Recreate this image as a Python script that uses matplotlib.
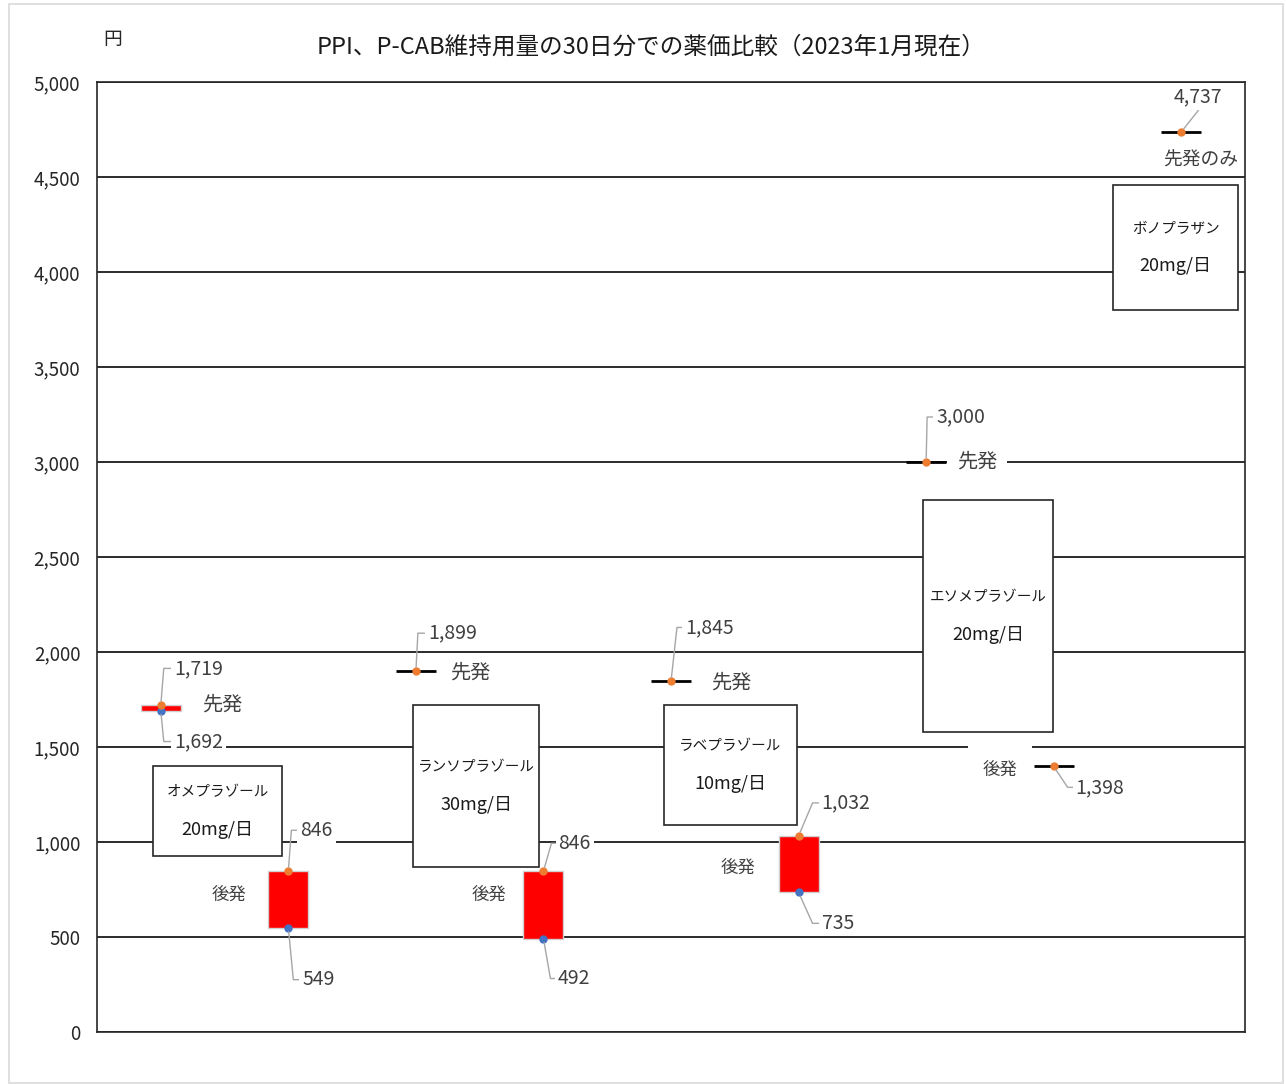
import math
import matplotlib
matplotlib.use('Agg')
import matplotlib.pyplot as plt
from matplotlib.patches import Rectangle

plt.rcParams['font.family'] = ['Noto Sans CJK JP', 'DejaVu Sans']

# data
title = 'PPI、P-CAB維持用量の30日分での薬価比較（2023年1月現在）'
kinds = ['先発', '後発', '先発', '後発', '先発', '後発', '先発', '後発', '先発のみ']
price_high = [1719, 846, 1899, 846, 1845, 1032, 3000, 1398, 4737]
price_low = [1692, 549, None, 492, None, 735, None, None, None]
drugs = ['オメプラゾール', 'ランソプラゾール', 'ラベプラゾール', 'エソメプラゾール', 'ボノプラザン']
doses = ['20mg/日', '30mg/日', '10mg/日', '20mg/日', '20mg/日']
yticks = list(range(0, 5001, 500))

# layout (pixel offsets of value labels: text dx, text dy, leader corner dx, white box)
hi_off = [(13, 37, 3, True), (12, 41, 3, True), (12, 38, 2, True), (15, 28, 8, True),
          (14, 54, 6, True), (23, 33, 14, True), (10, 45, 1, True), (22, -21, 14, True),
          (17, 35, None, True)]
lo_off = [(13, -31, 3, True), (14, -52, 5, True), None, (14, -40, 7, True), None,
          (23, -31, 14, False), None, None, None]
kind_pos = [(0.48, 1721), (0.535, 721), (2.424, 1889), (2.573, 721), (4.47, 1837),
            (4.525, 863), (6.399, 3000), (6.579, 1379), (8.15, 4589)]
kind_pad = [0.3, 0.3, 0.3, 0.3, 0.3, 0.3, 0.5, 0.85, 0.02]
name_boxes = [(0.0488, 0.1853, 0.1611, 0.28), (0.2753, 0.1737, 0.385, 0.3442),
              (0.4939, 0.2179, 0.6098, 0.3442), (0.7195, 0.3158, 0.8328, 0.56),
              (0.885, 0.76, 0.9939, 0.8916)]

W, H = 1286, 1084
fig = plt.figure(figsize=(W / 100, H / 100), dpi=100)
fig.patches.append(Rectangle((9 / W, 1 / H), 1274 / W, 1079 / H, transform=fig.transFigure,
                             fill=False, ec='#d9d9d9', lw=1.2))
ax = fig.add_axes([97 / W, 52 / H, 1148 / W, 950 / H])
ax.set_xlim(-0.5, 8.5)
ax.set_ylim(0, 5000)
ax.set_yticks(yticks)
ax.set_yticklabels([f'{v:,}' for v in yticks])
ax.set_xticks([])
ax.tick_params(axis='y', length=0, pad=12, labelsize=13.5, labelcolor='#262626')
for s in ax.spines.values():
    s.set_color('#262626')
    s.set_linewidth(1.2)
ax.grid(axis='y', color='#1a1a1a', lw=1.3, zorder=0)
ax.set_axisbelow(True)

bw = 0.314
for i in range(len(price_high)):
    hi = price_high[i]
    lo = price_low[i]
    if lo is not None:
        ax.bar(i, hi - lo, bottom=lo, width=bw, color='#ff0000', ec='#d0d0d0', lw=1, zorder=3)
        ax.plot(i, lo, 'o', color='#4472C4', ms=5, zorder=5)
    else:
        ax.hlines(hi, i - bw / 2, i + bw / 2, color='black', lw=2, zorder=3)
    ax.plot(i, hi, 'o', color='#ED7D31', ms=5, zorder=5)

    for v, off in ((hi, hi_off[i]), (lo, lo_off[i])):
        if off is None:
            continue
        dx, dy, cdx, boxed = off
        if cdx is None:
            cs = 'arc3'
            rp = (0.55, 0)
            ha = 'center'
        else:
            ang = math.degrees(math.atan2(dy, cdx))
            cs = f'angle,angleA=0,angleB={ang:.1f},rad=0'
            rp = (0, 0.5)
            ha = 'left'
        ax.annotate(f'{v:,}', xy=(i, v), xytext=(dx, dy), textcoords='offset pixels',
                    ha=ha, va='center', fontsize=14, color='#404040', zorder=6,
                    bbox=dict(boxstyle='square,pad=0.15', fc='white' if boxed else 'none', ec='none'),
                    arrowprops=dict(arrowstyle='-', color='#a6a6a6', lw=1, shrinkA=0, shrinkB=3,
                                    relpos=rp, connectionstyle=cs))

    kx, ky = kind_pos[i]
    fs = {'先発': 14.5, '後発': 12.5}.get(kinds[i], 13.5)
    ax.text(kx, ky, kinds[i], ha='center', va='center', fontsize=fs, color='#404040', zorder=4,
            bbox=dict(boxstyle=f'square,pad={kind_pad[i]}', fc='white', ec='none'))

for (x0, y0, x1, y1), name, dose in zip(name_boxes, drugs, doses):
    ax.add_patch(Rectangle((x0, y0), x1 - x0, y1 - y0, transform=ax.transAxes,
                           fc='white', ec='#262626', lw=1.2, zorder=2))
    cx, cy = (x0 + x1) / 2, (y0 + y1) / 2
    ax.annotate(name, xy=(cx, cy), xycoords='axes fraction', xytext=(0, 19),
                textcoords='offset pixels', ha='center', va='center', fontsize=10.5,
                color='#1a1a1a', zorder=4)
    ax.annotate(dose, xy=(cx, cy), xycoords='axes fraction', xytext=(0, -19),
                textcoords='offset pixels', ha='center', va='center', fontsize=13,
                color='#1a1a1a', zorder=4)

fig.text(651 / W, 1 - 47 / H, title, ha='center', va='center', fontsize=17, color='#1a1a1a')
fig.text(113 / W, 1 - 40 / H, '円', ha='center', va='center', fontsize=13.5, color='#262626')

fig.savefig('out.png', dpi=100)
